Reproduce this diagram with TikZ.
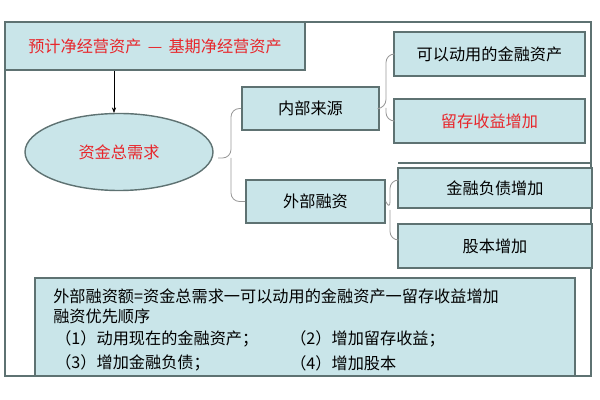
\documentclass[tikz,border=0pt]{standalone}
\usepackage{fontspec}
\setmainfont{Noto Sans CJK SC}
\usetikzlibrary{shapes.geometric,arrows.meta}
\definecolor{fillc}{HTML}{C9E5E9}
\definecolor{edgec}{HTML}{5E7272}
\definecolor{redt}{HTML}{E8262B}
\tikzset{
 bx/.style={draw=edgec,line width=1.2pt,fill=fillc,font=\fontsize{11.5}{13}\selectfont,inner sep=1pt},
 ln/.style={anchor=west,font=\fontsize{11.5}{13}\selectfont,inner sep=0pt},
 brace/.style={draw=gray!80,line width=0.6pt,rounded corners=6pt}
}
\begin{document}
\begin{tikzpicture}[x=0.025cm,y=-0.025cm]
\useasboundingbox (0,0) rectangle (600,400);
\draw[edgec,line width=1.2pt] (5,22) rectangle (591,376);
\node[bx,minimum width=300*0.025cm,minimum height=48*0.025cm,text=redt] (t) at (155,46) {预计净经营资产 \,—\, 基期净经营资产};
\node[draw=edgec,line width=1pt,fill=fillc,ellipse,minimum width=188*0.025cm,minimum height=77*0.025cm,text=redt,font=\fontsize{11.5}{13}\selectfont] (e) at (119,152) {资金总需求};
\draw[-{Stealth[length=4pt]},black] (t.south -| 114,0) -- (114,113) coordinate (ea);
\node[bx,minimum width=137*0.025cm,minimum height=43*0.025cm] (n) at (310.5,108.5) {内部来源};
\node[bx,minimum width=139*0.025cm,minimum height=43*0.025cm] (w) at (315.5,201.5) {外部融资};
\node[bx,minimum width=191*0.025cm,minimum height=44*0.025cm] (a) at (489.5,54) {可以动用的金融资产};
\node[bx,minimum width=191*0.025cm,minimum height=44*0.025cm,text=redt] (b) at (489.5,121) {留存收益增加};
\draw[edgec,line width=1pt] (398,163) -- (592,163);
\node[bx,minimum width=194*0.025cm,minimum height=40*0.025cm] (c) at (495,188) {金融负债增加};
\node[bx,minimum width=194*0.025cm,minimum height=44*0.025cm] (d) at (495,246) {股本增加};
\draw[brace] (n.west) -| (231,158) -- (218,158);
\draw[brace] (w.west) -| (231,158);
\draw[brace] (a.west) -| (386,108) -- (n.east);
\draw[brace] (b.west) -| (386,108);
\draw[brace] (c.west |- 0,180) -| (390,210) -- (w.east);
\draw[brace] (d.west |- 0,240) -| (390,210);
\node[bx,minimum width=540*0.025cm,minimum height=98*0.025cm] (f) at (305,327) {};
\node[ln] (l1) at (53,296) {外部融资额=资金总需求一可以动用的金融资产一留存收益增加};
\node[ln] (l2) at (53,316) {融资优先顺序};
\node[ln] (l3) at (55,339) {（1）动用现在的金融资产；};
\node[ln] (l4) at (290,339) {（2）增加留存收益；};
\node[ln] (l5) at (55,363) {（3）增加金融负债；};
\node[ln] (l6) at (290,363) {（4）增加股本};
\end{tikzpicture}
\end{document}
